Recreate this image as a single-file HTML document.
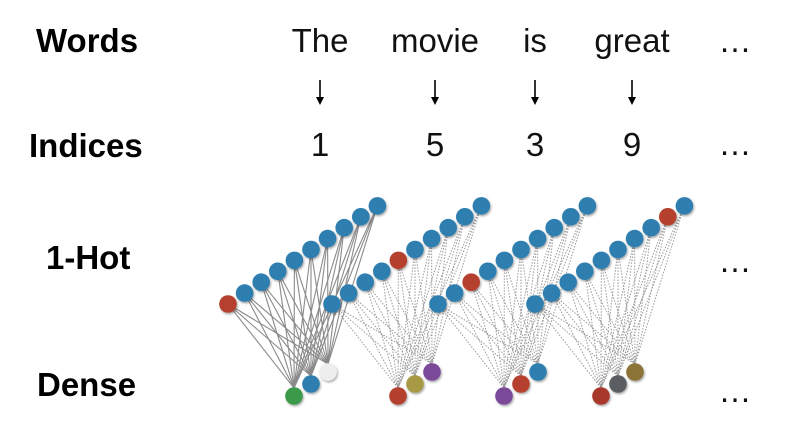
<!DOCTYPE html>
<html><head><meta charset="utf-8"><style>
html,body{margin:0;padding:0;background:#fff;}
svg{display:block;}
.lbl{font-family:"Liberation Sans",sans-serif;font-weight:bold;font-size:33px;fill:#000;}
.w{font-family:"Liberation Sans",sans-serif;font-size:33px;fill:#111;text-anchor:middle;}
</style></head><body>
<svg id="c" width="807" height="439" viewBox="0 0 807 439" xmlns="http://www.w3.org/2000/svg">
<defs><filter id="sh" x="-50%" y="-50%" width="200%" height="200%"><feDropShadow dx="1" dy="1.5" stdDeviation="1" flood-color="#000" flood-opacity="0.35"/></filter></defs>
<text class="lbl" x="36" y="52">Words</text>
<text class="lbl" x="29" y="157">Indices</text>
<text class="lbl" x="46" y="269">1-Hot</text>
<text class="lbl" x="37" y="396">Dense</text>
<text class="w" x="735" y="52">…</text>
<text class="w" x="735" y="155">…</text>
<text class="w" x="735" y="272">…</text>
<text class="w" x="735" y="402">…</text>
<g id="g"></g>
</svg>
<script>
const words = ["The","movie","is","great"];
const indices = [1,5,3,9];
const denseColors = [["#3b9a48","#2e7fb0","#eeeeee"],["#b5402f","#a89a45","#7a4a98"],["#7a4a98","#b5402f","#2e7fb0"],["#a8392c","#5a5d62","#8c7338"]];
const vocabSize = 10;
const centers = [320,435,535,632];
const oneHotStart = [228,332,438,535];
const NS = "http://www.w3.org/2000/svg";
const g = document.getElementById("g");
function mk(t,a){const e=document.createElementNS(NS,t);for(const k in a)e.setAttribute(k,a[k]);g.appendChild(e);return e;}
const dx=16.6, dy=-10.9;
words.forEach((w,i)=>{
  const cx=centers[i];
  const t=mk("text",{class:"w",x:cx,y:52});t.textContent=w;
  
  
  const ar=mk("line",{x1:cx,y1:80,x2:cx,y2:98,stroke:"#000","stroke-width":1.6});
  
  
  const ah=mk("polygon",{points:`${cx-4},97 ${cx+4},97 ${cx},105`,fill:"#000"});
  
  
  const n=mk("text",{class:"w",x:cx,y:156});n.textContent=indices[i];
  
  
});
const dpos=[[0,0],[17,-12],[34,-24]];
words.forEach((w,i)=>{
  const x0=oneHotStart[i], y0=304;
  const dbx=x0+66, dby=396;
  for(let k=0;k<vocabSize;k++){
    for(let d=0;d<3;d++){
      const l=mk("line",{x1:x0+k*dx,y1:y0+k*dy,x2:dbx+dpos[d][0],y2:dby+dpos[d][1]-8,stroke:i==0?"#8a8a8a":"#9a9a9a","stroke-width":i==0?1.1:1,"stroke-dasharray":i==0?"":"1.5,1.5"});
      
      
    }
  }
});
words.forEach((w,i)=>{
  const x0=oneHotStart[i], y0=304;
  const hot=indices[i]-1;
  for(let k=0;k<vocabSize;k++){
    const c=mk("circle",{cx:x0+k*dx,cy:y0+k*dy,r:8.8,fill:k==hot?"#b5402f":"#2e7fb0",filter:"url(#sh)"});
    
    
  }
  const dbx=x0+66, dby=396;
  for(let d=2;d>=0;d--){
    const c=mk("circle",{cx:dbx+dpos[d][0],cy:dby+dpos[d][1],r:8.8,fill:denseColors[i][d],filter:"url(#sh)"});
    
    
  }
});
</script>
</body></html>
